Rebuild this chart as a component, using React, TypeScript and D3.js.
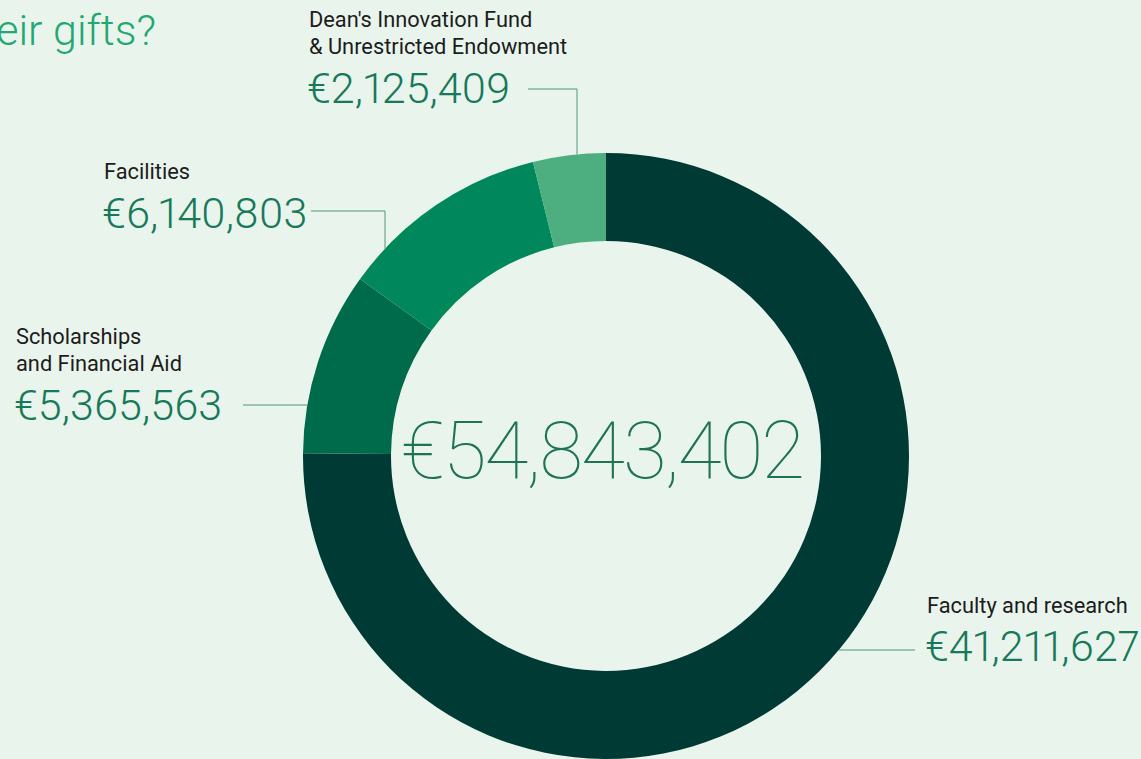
import React from "react";
import * as d3 from "d3";

// Gift designations (EUR), clockwise from 12 o'clock
const categories = [
  "Faculty and research",
  "Scholarships|and Financial Aid",
  "Facilities",
  "Dean's Innovation Fund|& Unrestricted Endowment",
];
const amounts = [41211627, 5365563, 6140803, 2125409];
const sliceColors = ["#003a35", "#006b4b", "#00875b", "#4dae80"];
const titleText = "their gifts?";

// where each label block sits and how its leader line reaches the ring
const labelLayout = [
  { x: 927, firstBaseline: 613, valueBaseline: 661, lineY: 650, lineFrom: 915, elbowX: null, side: "right" },
  { x: 16, firstBaseline: 344, valueBaseline: 420, lineY: 405, lineFrom: 243, elbowX: null, side: "left" },
  { x: 104, firstBaseline: 179, valueBaseline: 228, lineY: 211, lineFrom: 311, elbowX: 385, side: "left" },
  { x: 309, firstBaseline: 27, valueBaseline: 103, lineY: 89, lineFrom: 528, elbowX: 577, side: "left" },
];

const W = 1141;
const H = 759;
const cx = 606;
const cy = 456;
const outerR = 303;
const innerR = 215;

const fmt = (v: number) => "€" + d3.format(",")(v);

export default function App() {
  const total = d3.sum(amounts);
  const pie = d3
    .pie<number>()
    .sort(null)
    .startAngle(0)
    .endAngle(2 * Math.PI);
  const arcs = pie(amounts);
  const arc = d3.arc<d3.PieArcDatum<number>>().innerRadius(innerR).outerRadius(outerR);

  // leader path: horizontal to elbow, then vertical down to the outer edge
  const leader = (i: number) => {
    const l = labelLayout[i];
    if (l.elbowX != null) {
      const dx = l.elbowX - cx;
      const yEdge = cy - Math.sqrt(outerR * outerR - dx * dx);
      return `M${l.lineFrom},${l.lineY}H${l.elbowX}V${yEdge}`;
    }
    const dy = l.lineY - cy;
    const xOff = Math.sqrt(outerR * outerR - dy * dy);
    const xEdge = l.side === "right" ? cx + xOff : cx - xOff;
    return `M${l.lineFrom},${l.lineY}H${xEdge}`;
  };

  return (
    <div style={{ position: "absolute", left: 0, top: 0, width: W, height: H, overflow: "hidden" }}>
      <svg width={W} height={H} style={{ display: "block", fontFamily: "Roboto, sans-serif" }}>
        <rect width={W} height={H} fill="#e9f5ec" />

        <text x={156} y={45} textAnchor="end" fontSize={43} fontWeight={300} fill="#22a870">
          {titleText}
        </text>

        <g transform={`translate(${cx},${cy})`}>
          {arcs.map((a, i) => (
            <path key={i} d={arc(a) || ""} fill={sliceColors[i]} />
          ))}
        </g>

        {labelLayout.map((l, i) => (
          <path key={"l" + i} d={leader(i)} fill="none" stroke="#4f9579" strokeWidth={1} />
        ))}

        {categories.map((c, i) => {
          const l = labelLayout[i];
          return (
            <g key={"t" + i}>
              {c.split("|").map((line, j) => (
                <text key={j} x={l.x} y={l.firstBaseline + j * 27} fontSize={21.8} fill="#1c1c1c">
                  {line}
                </text>
              ))}
              <text
                x={l.x - 2}
                y={l.valueBaseline}
                fontSize={43}
                fontWeight={300}
                fill="#17795a"
                style={{ fontVariantNumeric: "proportional-nums" }}
              >
                {fmt(amounts[i])}
              </text>
            </g>
          );
        })}

        <text
          x={cx - 4}
          y={478}
          textAnchor="middle"
          fontSize={80}
          fontWeight={100}
          letterSpacing={-2}
          fill="#1d7352"
        >
          {fmt(total)}
        </text>
      </svg>
    </div>
  );
}
